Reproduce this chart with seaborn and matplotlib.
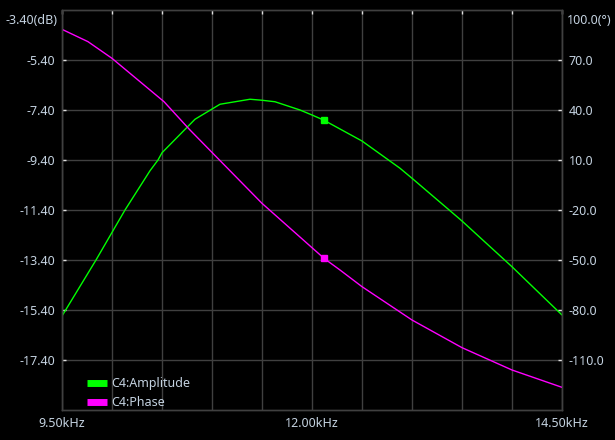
import numpy as np
import pandas as pd
import matplotlib
matplotlib.use("Agg")
import matplotlib.pyplot as plt
import seaborn as sns

# data (frequency in kHz)
amp_freq = [9.50, 9.84, 10.13, 10.38, 10.46, 10.50, 10.83, 11.08, 11.38, 11.50,
            11.63, 11.88, 12.00, 12.12, 12.50, 12.88, 13.00, 13.36, 13.50, 14.00, 14.50]
amp_db = [-15.64, -13.40, -11.40, -9.83, -9.40, -9.11, -7.77, -7.17, -6.97, -7.01,
          -7.07, -7.40, -7.60, -7.81, -8.64, -9.73, -10.13, -11.36, -11.84, -13.67, -15.60]

phase_freq = [9.50, 9.76, 10.00, 10.26, 10.38, 10.52, 10.78, 11.50, 12.12, 12.28, 12.50,
              13.00, 13.50, 14.00, 14.50]
phase_deg = [88.4, 81.0, 71.0, 58.0, 52.0, 45.0, 28.0, -16.0, -49.0, -56.0, -66.0,
             -86.0, -102.6, -116.0, -126.4]

cursor_freq = 12.12
cursor_amp = -7.81
cursor_phase = -49.0

x_ticks = [9.5, 10.0, 10.5, 11.0, 11.5, 12.0, 12.5, 13.0, 13.5, 14.0, 14.5]
x_labels = ["9.50kHz", "", "", "", "", "12.00kHz", "", "", "", "", "14.50kHz"]
db_ticks = [-17.4, -15.4, -13.4, -11.4, -9.4, -7.4, -5.4]
deg_ticks = [-110, -80, -50, -20, 10, 40, 70]

sns.set_style("dark")
plt.rcParams['font.family'] = ['Noto Sans', 'DejaVu Sans']

bg = "#000000"
grid_c = "#404040"
txt_c = "#c4d2e0"
green = "#00ff00"
magenta = "#ff00ff"
fs = 9

fig = plt.figure(figsize=(6.15, 4.4), dpi=100, facecolor=bg)
ax = fig.add_axes([62 / 615, 30 / 440, 500 / 615, 400 / 440], facecolor=bg)
ax2 = ax.twinx()

amp_df = pd.DataFrame({"freq": amp_freq, "amp": amp_db})
ph_df = pd.DataFrame({"freq": phase_freq, "phase": phase_deg})

sns.lineplot(data=amp_df, x="freq", y="amp", ax=ax, color=green, lw=1, label="C4:Amplitude", legend=False)
sns.lineplot(data=ph_df, x="freq", y="phase", ax=ax2, color=magenta, lw=1, label="C4:Phase", legend=False)
ax.plot([cursor_freq], [cursor_amp], "s", color=green, ms=4)
ax2.plot([cursor_freq], [cursor_phase], "s", color=magenta, ms=4)

ax.set_xlim(9.5, 14.5)
ax.set_ylim(-19.4, -3.4)
ax2.set_ylim(-140, 100)

ax.set_xticks(x_ticks)
ax.set_xticklabels(x_labels)
ax.set_yticks(db_ticks)
ax.set_yticklabels([f"{v:.2f}" for v in db_ticks])
ax2.set_yticks(deg_ticks)
ax2.set_yticklabels([f"{v:.1f}" for v in deg_ticks])

ax.grid(True, color=grid_c, lw=1)
ax2.grid(False)
ax.set_xlabel("")
ax.set_ylabel("")
ax2.set_ylabel("")

for a in (ax, ax2):
    for s in a.spines.values():
        s.set_color(grid_c)
        s.set_linewidth(1)
    a.tick_params(colors="#e0e0e0", labelcolor=txt_c, labelsize=fs, direction="in", length=3, width=1)
ax.tick_params(axis="x", top=True, pad=5)
ax.tick_params(axis="y", pad=5)
ax2.tick_params(axis="y", pad=5)

fig.text(57 / 615, 1 - 20 / 440, "-3.40(dB)", color=txt_c, fontsize=fs, ha="right", va="center")
fig.text(567 / 615, 1 - 20 / 440, "100.0(°)", color=txt_c, fontsize=fs, ha="left", va="center")

h1, l1 = ax.get_legend_handles_labels()
h2, l2 = ax2.get_legend_handles_labels()
leg = ax.legend(h1 + h2, l1 + l2, loc="upper left", bbox_to_anchor=(25 / 500, 33 / 400),
                frameon=False, fontsize=fs, handlelength=1.6, handletextpad=0.3,
                labelspacing=0.5, borderaxespad=0, borderpad=0)
for line in leg.get_lines():
    line.set_linewidth(5)
    line.set_solid_capstyle("butt")
for t in leg.get_texts():
    t.set_color(txt_c)

fig.savefig("out.png", dpi=100, facecolor=bg)
